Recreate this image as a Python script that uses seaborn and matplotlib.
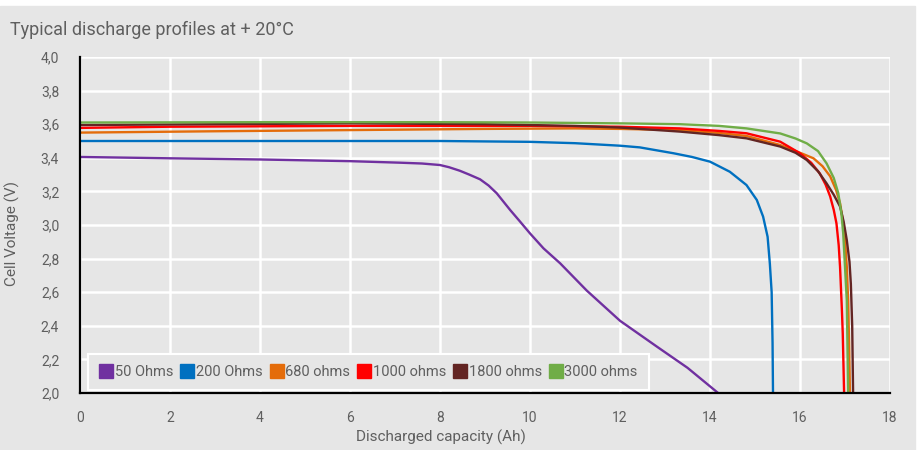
import pandas as pd
import matplotlib
matplotlib.use("Agg")
import matplotlib.pyplot as plt
import seaborn as sns
from matplotlib.lines import Line2D
from matplotlib.ticker import FuncFormatter

# ************* DATA ******************************************
labels = ["50 Ohms", "200 Ohms", "680 ohms", "1000 ohms", "1800 ohms", "3000 ohms"]
colors = ["#7030a0", "#0070c0", "#e46c0a", "#ff0000", "#632523", "#70ad47"]

x_50 = [0, 2, 4, 6, 7.1, 7.6, 8.0, 8.2, 8.44, 8.65, 8.89, 9.08, 9.26, 9.56, 9.78, 10.0, 10.3,
        10.67, 11.26, 12.0, 12.82, 13.5, 14.18]
y_50 = [3.405, 3.397, 3.39, 3.38, 3.371, 3.366, 3.357, 3.344, 3.323, 3.3, 3.272, 3.235, 3.189,
        3.089, 3.02, 2.95, 2.861, 2.772, 2.61, 2.43, 2.276, 2.15, 2.0]

x_200 = [0, 4, 8, 10, 11, 12, 12.44, 13.19, 13.6, 14.0, 14.44, 14.81, 15.04, 15.18, 15.28,
         15.33, 15.37, 15.39, 15.40]
y_200 = [3.50, 3.50, 3.50, 3.495, 3.487, 3.472, 3.462, 3.427, 3.405, 3.377, 3.317, 3.238,
         3.149, 3.05, 2.93, 2.77, 2.6, 2.3, 2.0]

x_680 = [0, 3, 6, 9, 11, 12, 13.33, 14.2, 14.81, 15.56, 16.0, 16.3, 16.5, 16.67, 16.8, 16.89,
         16.95, 17.0, 17.04, 17.07, 17.09, 17.11]
y_680 = [3.55, 3.558, 3.565, 3.572, 3.575, 3.572, 3.565, 3.548, 3.53, 3.476, 3.43, 3.397,
         3.35, 3.29, 3.21, 3.13, 3.03, 2.91, 2.75, 2.55, 2.3, 2.0]

x_1000 = [0, 2, 6, 10, 12, 13.33, 14.2, 14.81, 15.56, 16.0, 16.25, 16.44, 16.57, 16.67, 16.75,
          16.81, 16.86, 16.89, 16.93, 16.95, 16.98]
y_1000 = [3.578, 3.585, 3.59, 3.59, 3.585, 3.575, 3.56, 3.546, 3.496, 3.427, 3.37, 3.307,
          3.24, 3.17, 3.09, 3.01, 2.88, 2.75, 2.5, 2.355, 2.0]

x_1800 = [0, 3, 6, 9, 11, 12, 13.33, 14.2, 14.81, 15.56, 15.9, 16.15, 16.4, 16.59, 16.75,
          16.89, 16.97, 17.04, 17.1, 17.13, 17.16, 17.18]
y_1800 = [3.595, 3.6, 3.605, 3.6, 3.59, 3.58, 3.556, 3.535, 3.516, 3.467, 3.43, 3.387, 3.32,
          3.248, 3.18, 3.11, 3.02, 2.91, 2.78, 2.65, 2.4, 2.0]

x_3000 = [0, 4, 8, 10, 12, 13.33, 14.2, 14.81, 15.56, 15.9, 16.15, 16.4, 16.59, 16.75, 16.85,
          16.92, 16.96, 17.0, 17.04, 17.07]
y_3000 = [3.61, 3.612, 3.612, 3.61, 3.605, 3.60, 3.59, 3.575, 3.545, 3.515, 3.486, 3.44,
          3.367, 3.28, 3.19, 3.07, 2.95, 2.75, 2.55, 2.0]

xs = [x_50, x_200, x_680, x_1000, x_1800, x_3000]
ys = [y_50, y_200, y_680, y_1000, y_1800, y_3000]

# long dataframe for seaborn
frames = []
for lab, x, y in zip(labels, xs, ys):
    frames.append(pd.DataFrame({"capacity": x, "voltage": y, "load": lab}))
df = pd.concat(frames, ignore_index=True)

# ************* PLOT *****************
sns.set_style("darkgrid", {"axes.facecolor": "#e6e6e6", "grid.color": "white"})
plt.rcParams["font.family"] = ["Roboto", "DejaVu Sans"]
plt.rcParams["lines.solid_joinstyle"] = "round"

bg = "#e6e6e6"
txt = "#5f5f5f"

fig = plt.figure(figsize=(9.22, 4.5), dpi=100)
fig.patches.append(plt.Rectangle((0, 0), 915 / 922, 444 / 450, transform=fig.transFigure,
                                 color=bg, zorder=-10))
ax = fig.add_axes([80 / 922, 1 - 393 / 450, 810 / 922, 336 / 450])

sns.lineplot(data=df, x="capacity", y="voltage", hue="load", palette=colors,
             hue_order=labels, linewidth=1.7, ax=ax, legend=False, sort=False,
             estimator=None)
for ln in ax.get_lines():
    ln.set_solid_joinstyle("round")

ax.set_xlim(0, 18)
ax.set_ylim(2.0, 4.0)
ax.set_xticks(range(0, 19, 2))
ax.set_yticks([2.0 + 0.2 * i for i in range(11)])
ax.yaxis.set_major_formatter(FuncFormatter(lambda v, p: f"{v:.1f}".replace(".", ",")))
ax.grid(True, color="white", linewidth=1.8)
ax.tick_params(axis="both", length=0, labelsize=10, colors=txt)
ax.tick_params(axis="y", pad=15)
ax.tick_params(axis="x", pad=13)
ax.set_xlabel("")
ax.set_ylabel("")

for s in ["top", "right"]:
    ax.spines[s].set_visible(False)
for s in ["left", "bottom"]:
    ax.spines[s].set_visible(True)
    ax.spines[s].set_color("black")
    ax.spines[s].set_linewidth(1.6)

# legend with square markers
handles = [Line2D([], [], marker="s", linestyle="", markersize=10, color=c) for c in colors]
leg = ax.legend(handles, labels, loc="lower left", bbox_to_anchor=(0.01, 0.009), ncol=6,
                frameon=True, facecolor=bg, edgecolor="white", framealpha=1,
                handletextpad=0.1, columnspacing=0.45, handlelength=1.0,
                borderpad=0.75, borderaxespad=0, fontsize=10.5, labelcolor=txt,
                fancybox=False)
leg.get_frame().set_linewidth(1.5)

# title and axis labels
fig.text(10 / 922, 1 - 30 / 450, "Typical discharge profiles at + 20\u00b0C", fontsize=13,
         color=txt, va="center", ha="left")
fig.text(441 / 922, 1 - 437 / 450, "Discharged capacity (Ah)", fontsize=11, color=txt,
         ha="center", va="center")
fig.text(12 / 922, 1 - 234 / 450, "Cell Voltage (V)", fontsize=11, color=txt,
         ha="center", va="center", rotation=90)

fig.savefig("out.png", dpi=100, facecolor="white")
